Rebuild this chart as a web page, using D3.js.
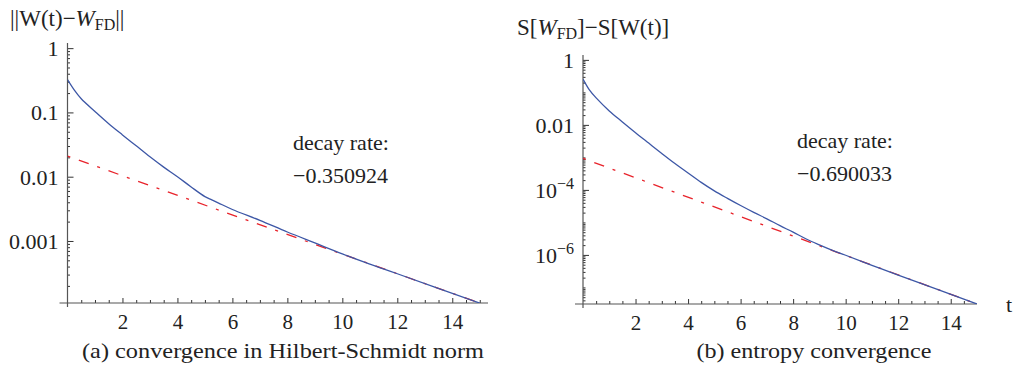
<!DOCTYPE html>
<html>
<head>
<meta charset="utf-8">
<script src="https://cdn.jsdelivr.net/npm/d3@7"></script>
<style>
body { margin: 0; background: #fff; }
</style>
</head>
<body>
<svg id="chart" width="1015" height="368"></svg>
<script>
"use strict";

// (a) Hilbert-Schmidt norm
const normT = [0, 0.25, 0.5, 1, 1.5, 2, 2.5, 3, 3.5, 4, 4.5, 5, 5.25, 5.5, 6, 7, 8, 9, 10, 11, 12, 15];
const normVals = [0.324, 0.222, 0.163, 0.1035, 0.0668, 0.0447, 0.0302, 0.0204, 0.0141, 0.0100, 0.00692,
    0.0049, 0.00437, 0.00389, 0.00309, 0.00209, 0.00138, 0.000933, 0.000631, 0.000437, 0.000309, 0.000108];
const normFitT = [0, 15];
const normFitVals = [0.0209, 0.000108];
const normRate = "\u22120.350924";

// (b) entropy
const entT = [0, 0.25, 0.5, 1, 1.5, 2, 2.5, 3, 3.5, 4, 4.5, 5, 5.5, 6, 6.5, 7, 7.5, 8, 8.5, 9, 9.5, 10, 11, 12, 15];
const entVals = [0.257, 0.1175, 0.0676, 0.0269, 0.0123, 0.00575, 0.00275, 0.00132, 0.000646, 0.000331,
    0.00017, 9.33e-5, 5.5e-5, 3.31e-5, 2.04e-5, 1.29e-5, 7.94e-6, 5.01e-6, 3.09e-6, 2.04e-6,
    1.38e-6, 9.77e-7, 4.79e-7, 2.40e-7, 3.09e-8];
const entFitT = [0, 15];
const entFitVals = [9.33e-4, 3.09e-8];
const entRate = "\u22120.690033";

const xTickLabels = [2, 4, 6, 8, 10, 12, 14];
const normYTicks = [1, 0.1, 0.01, 0.001];
const normYLabels = ["1", "0.1", "0.01", "0.001"];
const entYTicks = [1, 0.01, 1e-4, 1e-6];
const entYLabels = [["1"], ["0.01"], ["10", "\u22124"], ["10", "\u22126"]];

const SERIF = "Liberation Serif";
const svg = d3.select("#chart");
const BLUE = "#3d57a6";
const RED = "#e8232b";
const AXIS = "#555";
const INK = "#222";

const drawPanel = function(id, o) {
    const g = svg.append("g");
    const x = d3.scaleLinear().domain([0, o.xMax]).range([o.x0, o.x1]);
    const y = d3.scaleLog().domain(o.yDomain).range([o.yB, o.yT]);

    // minor log ticks
    const lo = Math.floor(Math.log10(o.yDomain[0])), hi = Math.ceil(Math.log10(o.yDomain[1]));
    let minor = [];
    for (let k = lo; k <= hi; k++) {
        for (let m = 1; m <= 9; m++) {
            const v = m * Math.pow(10, k);
            if (v >= o.yDomain[0] && v <= o.yDomain[1] && !o.yTicks.some((t) => Math.abs(t - v) / v < 1e-6)) minor.push(v);
        }
    }
    g.append("g").attr("transform", "translate(" + o.x0 + ",0)")
        .call(d3.axisLeft(y).tickValues(minor).tickSize(-2.5).tickFormat(""));
    const yMajor = g.append("g").attr("transform", "translate(" + o.x0 + ",0)")
        .call(d3.axisLeft(y).tickValues(o.yTicks).tickSize(-6).tickPadding(9).tickFormat(""));

    const xMinor = d3.range(0.5, o.xMax, 0.5).filter((v) => v % 2 !== 0);
    g.append("g").attr("transform", "translate(0," + o.yB + ")")
        .call(d3.axisBottom(x).tickValues(xMinor).tickSize(-3).tickFormat(""));
    const xMajor = g.append("g").attr("transform", "translate(0," + o.yB + ")")
        .call(d3.axisBottom(x).tickValues(xTickLabels).tickSize(-5).tickPadding(0));

    g.selectAll(".domain").remove();
    g.selectAll("g").attr("font-family", SERIF);
    g.selectAll(".tick line").attr("stroke", "#333").attr("stroke-width", 1);

    xMajor.selectAll("text")
        .attr("y", 26).attr("dy", null)
        .attr("fill", INK).attr("font-size", 21).attr("font-family", SERIF);

    yMajor.selectAll(".tick").each(function(d, i) {
        const t = d3.select(this).select("text");
        const lab = o.yLabels[i];
        t.attr("fill", INK).attr("font-size", 22).attr("font-family", SERIF)
            .attr("x", -9).attr("dy", "0.34em").attr("text-anchor", "end");
        if (Array.isArray(lab)) {
            t.append("tspan").text(lab[0]);
            if (lab.length > 1) {
                t.append("tspan").attr("dy", -9).attr("font-size", 16).text(lab[1]);
            }
        } else {
            t.text(lab);
        }
    });

    // axis lines (they cross at the origin like Mathematica)
    g.append("line").attr("x1", o.x0 - 8).attr("x2", o.x1).attr("y1", o.yB).attr("y2", o.yB)
        .attr("stroke", AXIS).attr("stroke-width", 1.2);
    g.append("line").attr("x1", o.x0).attr("x2", o.x0).attr("y1", o.yT).attr("y2", o.yB + 4)
        .attr("stroke", AXIS).attr("stroke-width", 1.2);

    g.append("clipPath").attr("id", "clip-" + id)
        .append("rect").attr("x", o.x0).attr("y", o.yT).attr("width", o.x1 - o.x0).attr("height", o.yB - o.yT);

    const plot = g.append("g").attr("clip-path", "url(#clip-" + id + ")");

    plot.append("path")
        .datum(o.fitT.map((t, i) => [t, o.fitVals[i]]))
        .attr("d", d3.line().x((d) => x(d[0])).y((d) => y(d[1])))
        .attr("fill", "none").attr("stroke", RED).attr("stroke-width", 1.3)
        .attr("stroke-dasharray", "3,9,10.5,9");

    plot.append("path")
        .datum(o.t.map((t, i) => [t, o.vals[i]]))
        .attr("d", d3.line().x((d) => x(d[0])).y((d) => y(d[1])).curve(d3.curveCatmullRom.alpha(0.5)))
        .attr("fill", "none").attr("stroke", BLUE).attr("stroke-width", 1.3);

    // decay rate annotation
    const ann = g.append("text").attr("x", o.annX).attr("y", o.annY)
        .attr("fill", INK).attr("font-size", 22).attr("font-family", SERIF);
    ann.append("tspan").attr("x", o.annX).text("decay rate:");
    ann.append("tspan").attr("x", o.annX).attr("dy", 33).text(o.rate);

    // caption (LaTeX caption is wider than Times, so stretch it a little)
    g.append("text").attr("x", o.capX).attr("y", 358).attr("text-anchor", "middle")
        .attr("fill", INK).attr("font-size", 22).attr("font-family", SERIF)
        .attr("textLength", o.capW).attr("lengthAdjust", "spacingAndGlyphs")
        .text(o.caption);

    return g;
};

drawPanel("a", {
    xMax: 15.3, x0: 67.5, x1: 488,
    yDomain: [Math.pow(10, -3.965), Math.pow(10, 0.08)], yB: 303, yT: 43,
    yTicks: normYTicks, yLabels: normYLabels,
    t: normT, vals: normVals, fitT: normFitT, fitVals: normFitVals,
    rate: normRate, annX: 293, annY: 150,
    capX: 283, capW: 402, caption: "(a) convergence in Hilbert-Schmidt norm"
});

drawPanel("b", {
    xMax: 15, x0: 583, x1: 977,
    yDomain: [Math.pow(10, -7.51), Math.pow(10, 0.15)], yB: 304, yT: 55,
    yTicks: entYTicks, yLabels: entYLabels,
    t: entT, vals: entVals, fitT: entFitT, fitVals: entFitVals,
    rate: entRate, annX: 797, annY: 148,
    capX: 814, capW: 235, caption: "(b) entropy convergence"
});

// y-axis titles
const titleA = svg.append("text").attr("x", 10).attr("y", 26).attr("fill", INK)
    .attr("font-size", 23).attr("font-family", SERIF);
titleA.append("tspan").text("||W(t)\u2212");
titleA.append("tspan").attr("font-style", "italic").text("W");
titleA.append("tspan").attr("dy", 4).attr("font-size", 16).text("FD");
titleA.append("tspan").attr("dy", -4).text("||");

const titleB = svg.append("text").attr("x", 517).attr("y", 35).attr("fill", INK)
    .attr("font-size", 23).attr("font-family", SERIF);
titleB.append("tspan").text("S[");
titleB.append("tspan").attr("font-style", "italic").text("W");
titleB.append("tspan").attr("dy", 4).attr("font-size", 16).text("FD");
titleB.append("tspan").attr("dy", -4).text("]\u2212S[W(t)]");

svg.append("text").attr("x", 1006).attr("y", 312).attr("fill", INK)
    .attr("font-size", 22).attr("font-family", SERIF).text("t");
</script>
</body>
</html>
